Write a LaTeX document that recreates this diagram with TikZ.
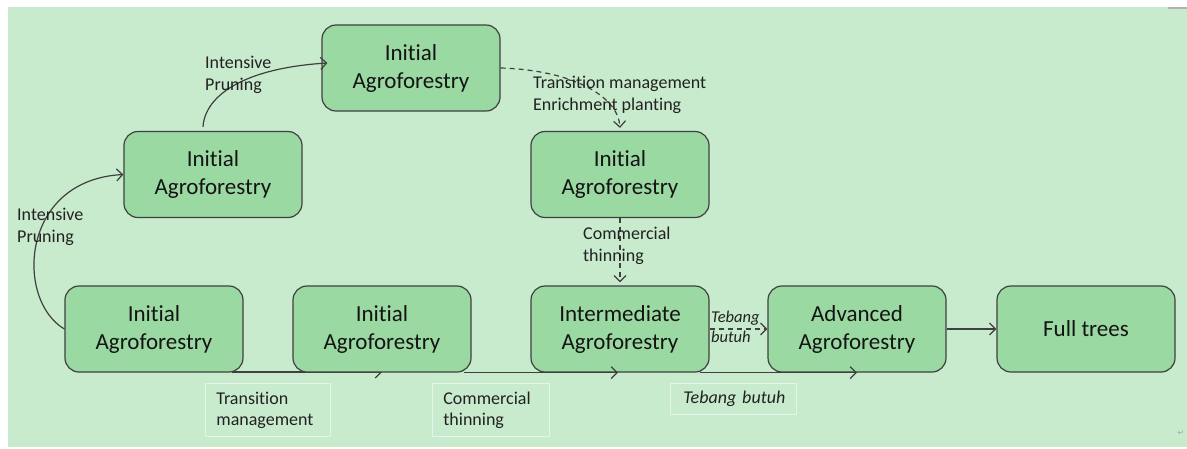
\documentclass[tikz,border=0pt]{standalone}
\usepackage{fontspec}
\setmainfont[Ligatures=NoCommon]{Carlito}
\newfontfamily\symfont{DejaVu Sans}
\usetikzlibrary{arrows.meta}
\definecolor{bg}{RGB}{200,234,205}
\definecolor{boxfill}{RGB}{155,217,162}
\definecolor{edge}{RGB}{64,64,64}
\definecolor{lbl}{RGB}{34,34,34}
\definecolor{lblframe}{RGB}{228,244,230}
\begin{document}
\begin{tikzpicture}[x=1pt,y=-1pt,
  stage/.style={draw=edge, line width=1.2pt, fill=boxfill, rounded corners=14pt,
    minimum width=178pt, minimum height=86pt, align=center, inner sep=0pt,
    font=\fontsize{23}{28}\selectfont, text=black!92},
  conn/.style={draw=edge, line width=1.2pt, -{Straight Barb[length=6pt,width=12pt]}},
  dconn/.style={conn, dash pattern=on 5pt off 4pt},
  lab/.style={font=\fontsize{18}{22}\selectfont, text=lbl, align=left, inner sep=0pt, anchor=west},
  labbox/.style={draw=lblframe, line width=0.8pt, anchor=north west, align=left,
    font=\fontsize{18}{21}\selectfont, text=lbl, inner ysep=0pt}
]
\useasboundingbox (0,0) rectangle (1187,448);
\fill[white] (0,0) rectangle (1187,448);
\fill[bg] (8,7) rectangle (1187,447);
\fill[gray!60] (1168,7) rectangle (1187,9);

% bottom connectors (drawn first so box B partly covers its arrow tip)
\coordinate (bA) at (232,372);
\draw[conn] (bA) -- (382,372) coordinate (bB);

% stages
\node[stage] (A) at (154,329) {Initial\\Agroforestry};
\node[stage] (B) at (382,329) {Initial\\Agroforestry};
\node[stage] (C) at (620,329) {Intermediate\\Agroforestry};
\node[stage] (D) at (857,329) {Advanced\\Agroforestry};
\node[stage] (E) at (1086,329) {Full trees};
\node[stage] (F) at (213,174.5) {Initial\\Agroforestry};
\node[stage] (G) at (411,68) {Initial\\Agroforestry};
\node[stage] (H) at (620,174.5) {Initial\\Agroforestry};

% connectors
\draw[conn] (A.west) .. controls (15,300) and (20,180) .. (F.west);
\draw[conn] ([xshift=-10pt,yshift=4pt]F.north) .. controls (205,95) and (245,68) .. ([xshift=6pt,yshift=5pt]G.west);
\draw[dconn] (G.east) .. controls (570,70) and (618,95) .. ([yshift=3pt]H.north);
\draw[dconn] (H.south) -- ([yshift=3pt]C.north);
\draw[dconn] (C.east) -- (D.west);
\draw[conn] (D.east) -- (E.west);
\draw[draw=edge, line width=1.2pt] (bA) -- ([xshift=-10pt]A.south east);
\draw[conn] ([xshift=-8pt]B.south east) -- ([xshift=-2pt]C.south);
\draw[conn] ([xshift=-10pt]C.south east) -- (D.south);

% labels on connectors
\node[lab] (l1) at (205,75) {Intensive\\Pruning};
\node[lab] (l2) at (17,227) {Intensive\\Pruning};
\node[lab] (l3) at (533,94.5) {Transition management\\Enrichment planting};
\node[lab] (l4) at (583,246) {Commercial\\thinning};
\node[lab, font=\fontsize{16.5}{20}\selectfont\itshape] (l5) at (711,327) {Tebang\\butuh};

% framed labels below
\node[labbox, minimum width=125pt, minimum height=53pt, text width=103pt, inner xsep=11pt] (t1) at (205,383) {Transition\\management};
\node[labbox, minimum width=117pt, minimum height=53pt, text width=95pt, inner xsep=11pt] (t2) at (432,383) {Commercial\\thinning};
\node[labbox, minimum width=126pt, minimum height=31pt, text width=114pt, inner xsep=6pt, font=\fontsize{18}{21}\selectfont\itshape] (t3) at (670,383) {\mbox{\hspace{7pt}Tebang butuh}};

\node[font=\symfont\fontsize{8}{8}\selectfont, text=gray!70, inner sep=0pt] (ret) at (1181,433) {↵};
\end{tikzpicture}
\end{document}
